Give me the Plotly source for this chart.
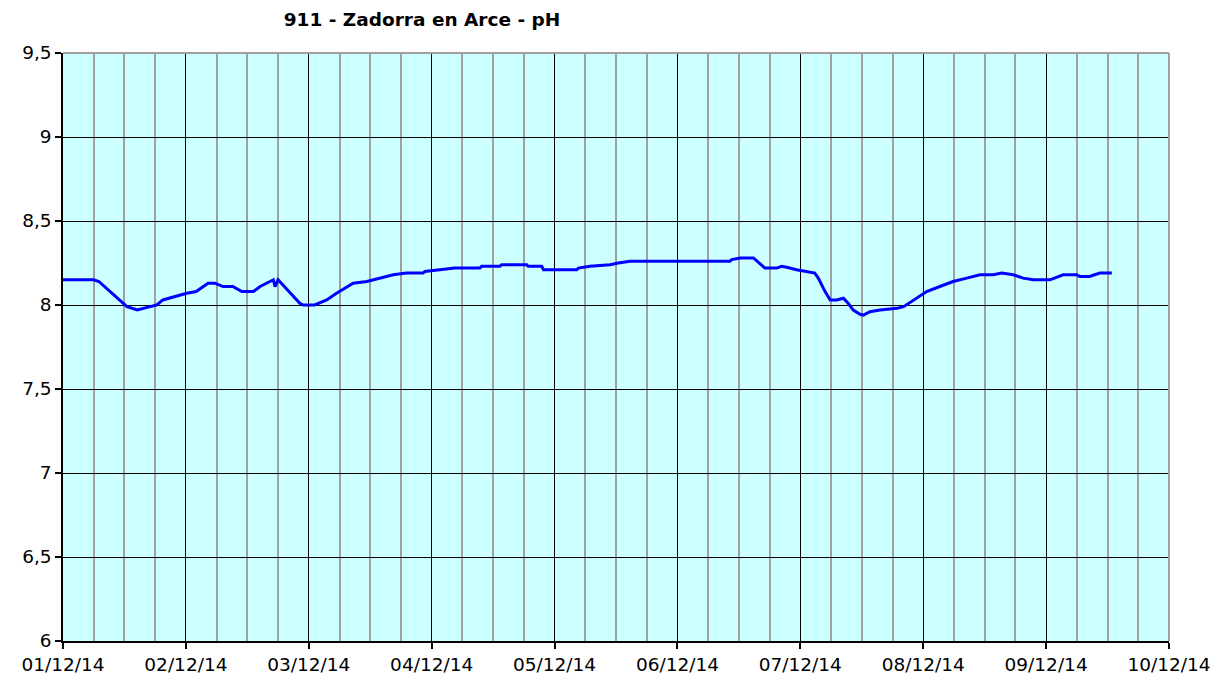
import plotly.graph_objects as go

# pH readings, station 911 - Zadorra en Arce (December 2014)
times = [
    "2014-12-01 00:00", "2014-12-01 06:00", "2014-12-01 07:00", "2014-12-01 12:30",
    "2014-12-01 14:30", "2014-12-01 18:20", "2014-12-01 19:30", "2014-12-02 00:10",
    "2014-12-02 02:00", "2014-12-02 04:20", "2014-12-02 05:40", "2014-12-02 07:15",
    "2014-12-02 09:10", "2014-12-02 10:55", "2014-12-02 13:10", "2014-12-02 14:30",
    "2014-12-02 16:25", "2014-12-02 17:05", "2014-12-02 17:25", "2014-12-02 18:00",
    "2014-12-02 22:15", "2014-12-02 22:55", "2014-12-03 01:10", "2014-12-03 03:30",
    "2014-12-03 05:25", "2014-12-03 08:40", "2014-12-03 11:20", "2014-12-03 13:55",
    "2014-12-03 16:30", "2014-12-03 19:05", "2014-12-03 22:20", "2014-12-03 22:40",
    "2014-12-04 01:35", "2014-12-04 04:30", "2014-12-04 09:25", "2014-12-04 09:45",
    "2014-12-04 13:20", "2014-12-04 13:40", "2014-12-04 18:35", "2014-12-04 18:50",
    "2014-12-04 21:30", "2014-12-04 21:50", "2014-12-05 04:20", "2014-12-05 04:40",
    "2014-12-05 06:55", "2014-12-05 10:50", "2014-12-05 12:25", "2014-12-05 14:45",
    "2014-12-06 10:15", "2014-12-06 10:35", "2014-12-06 12:15", "2014-12-06 14:50",
    "2014-12-06 17:05", "2014-12-06 19:25", "2014-12-06 20:20", "2014-12-06 21:20",
    "2014-12-06 23:15", "2014-12-07 01:15", "2014-12-07 02:50", "2014-12-07 03:30",
    "2014-12-07 04:50", "2014-12-07 05:50", "2014-12-07 07:05", "2014-12-07 08:25",
    "2014-12-07 09:20", "2014-12-07 10:20", "2014-12-07 11:40", "2014-12-07 12:20",
    "2014-12-07 13:35", "2014-12-07 15:35", "2014-12-07 18:50", "2014-12-07 20:10",
    "2014-12-07 22:05", "2014-12-08 00:40", "2014-12-08 03:15", "2014-12-08 05:50",
    "2014-12-08 08:30", "2014-12-08 11:05", "2014-12-08 13:40", "2014-12-08 15:20",
    "2014-12-08 17:35", "2014-12-08 19:30", "2014-12-08 21:30", "2014-12-09 00:45",
    "2014-12-09 03:20", "2014-12-09 05:55", "2014-12-09 06:35", "2014-12-09 08:30",
    "2014-12-09 10:30", "2014-12-09 12:50",
]
ph = [
    8.15, 8.15, 8.14, 7.99,
    7.97, 8.00, 8.03, 8.07,
    8.08, 8.13, 8.13, 8.11,
    8.11, 8.08, 8.08, 8.11,
    8.14, 8.15, 8.11, 8.15,
    8.01, 8.00, 8.00, 8.03,
    8.07, 8.13, 8.14, 8.16,
    8.18, 8.19, 8.19, 8.20,
    8.21, 8.22, 8.22, 8.23,
    8.23, 8.24, 8.24, 8.23,
    8.23, 8.21, 8.21, 8.22,
    8.23, 8.24, 8.25, 8.26,
    8.26, 8.27, 8.28, 8.28,
    8.22, 8.22, 8.23, 8.225,
    8.21, 8.20, 8.19, 8.16,
    8.08, 8.03, 8.03, 8.04,
    8.01, 7.97, 7.945, 7.94,
    7.96, 7.97, 7.98, 7.99,
    8.03, 8.08, 8.11, 8.14,
    8.16, 8.18, 8.18, 8.19,
    8.18, 8.16, 8.15, 8.15,
    8.18, 8.18, 8.17, 8.17,
    8.19, 8.19,
]

title_text = "911 - Zadorra en Arce - pH"
x_start, x_end = "2014-12-01", "2014-12-10"
y_min, y_max = 6, 9.5

DAY_MS = 86400000
SIX_H_MS = 21600000
FONT = "DejaVu Sans"
TICK_SIZE = 18.5

fig = go.Figure()
fig.add_trace(go.Scatter(
    x=times, y=ph, mode="lines",
    line=dict(color="#0000FF", width=3),
    hoverinfo="x+y", showlegend=False,
))

# gray frame on the top and right edges of the plot area
fig.add_shape(type="line", xref="paper", yref="paper", x0=0, x1=1, y0=1, y1=1,
              line=dict(color="#A0A0A0", width=2), layer="above")
fig.add_shape(type="line", xref="paper", yref="paper", x0=1, x1=1, y0=0, y1=1,
              line=dict(color="#A0A0A0", width=2), layer="above")

fig.update_layout(
    width=1228, height=680,
    margin=dict(l=63, r=59, t=53, b=39),
    paper_bgcolor="#FFFFFF",
    plot_bgcolor="#CCFFFF",
    separators=",.",
    title=dict(
        text="<b>" + title_text + "</b>",
        x=422 / 1228, xanchor="center",
        y=1 - 20 / 680, yanchor="middle",
        font=dict(family=FONT, size=18.5, color="#000000"),
    ),
    font=dict(family=FONT, size=TICK_SIZE, color="#000000"),
    xaxis=dict(
        type="date",
        range=[x_start, x_end],
        tick0=x_start, dtick=DAY_MS,
        tickformat="%d/%m/%y",
        showgrid=True, gridcolor="#000000", gridwidth=1,
        showline=True, linecolor="#000000", linewidth=1.5,
        ticks="outside", ticklen=6, tickcolor="#000000", tickwidth=1.5,
        tickfont=dict(family=FONT, size=TICK_SIZE),
        minor=dict(dtick=SIX_H_MS, tick0=x_start, showgrid=True,
                   gridcolor="#A0A0A0", gridwidth=2),
        zeroline=False,
        automargin=False,
        fixedrange=True,
    ),
    yaxis=dict(
        range=[y_min, y_max],
        tick0=6, dtick=0.5,
        showgrid=True, gridcolor="#000000", gridwidth=1,
        showline=True, linecolor="#000000", linewidth=1.5,
        ticks="outside", ticklen=6, tickcolor="#000000", tickwidth=1.5,
        tickfont=dict(family=FONT, size=TICK_SIZE),
        zeroline=False,
        automargin=False,
        fixedrange=True,
    ),
)

fig.write_html("out.html")
